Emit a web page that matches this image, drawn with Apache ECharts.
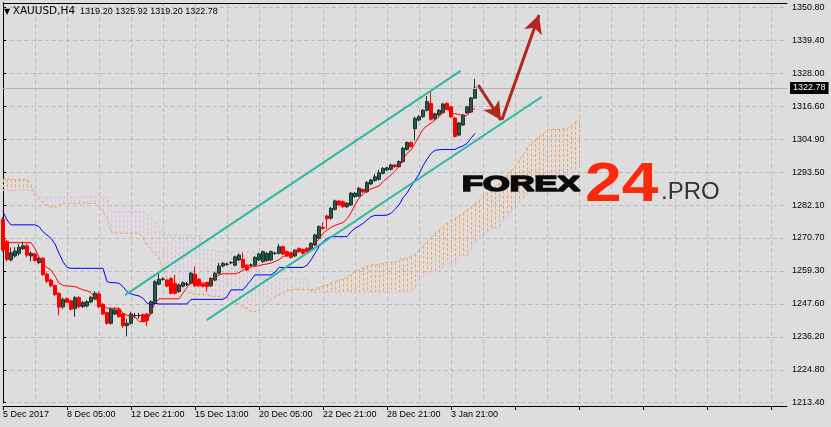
<!DOCTYPE html>
<html><head><meta charset="utf-8">
<script src="https://cdn.jsdelivr.net/npm/echarts@6/dist/echarts.min.js"></script>
<style>html,body{margin:0;padding:0;background:#dddddd;}#c{width:831px;height:427px;}</style>
</head><body><div id="c"></div>
<script>
// ---- data ----
const xTickLabels = ['5 Dec 2017','8 Dec 05:00','12 Dec 21:00','15 Dec 13:00','20 Dec 05:00','22 Dec 21:00','28 Dec 21:00','3 Jan 21:00'];
const yTickLabels = ['1213.40','1224.80','1236.20','1247.60','1259.30','1270.70','1282.10','1293.50','1304.90','1316.60','1328.00','1339.40','1350.80'];
const barCount = 197;
const lastPrice = 1322.78;

const openP = [1277.1,1269.4,1263.0,1264.4,1265.3,1266.9,1267.9,1264.4,1265.1,1262.1,
1263.6,1258.1,1256.0,1254.1,1251.4,1246.7,1249.5,1248.8,1246.1,1249.9,
1246.8,1247.0,1248.4,1249.5,1251.2,1247.6,1244.7,1241.0,1244.2,1245.9,
1244.2,1240.2,1241.0,1243.7,1243.7,1244.0,1244.2,1244.5,1247.9,1254.6,
1256.3,1256.0,1256.6,1254.9,1252.0,1253.9,1254.6,1254.9,1258.0,1256.3,
1254.6,1255.1,1254.0,1256.0,1258.4,1260.9,1261.5,1262.1,1261.2,1263.0,
1263.2,1261.2,1261.2,1261.2,1263.0,1262.4,1262.8,1263.0,1265.3,1265.3,
1267.6,1265.9,1265.5,1264.4,1267.0,1266.6,1267.0,1266.4,1268.2,1270.5,
1274.3,1278.3,1277.5,1280.6,1283.5,1283.3,1281.5,1282.1,1285.0,1285.2,
1287.5,1286.7,1289.4,1290.6,1291.0,1293.1,1294.3,1294.5,1296.0,1295.4,
1297.2,1301.4,1303.8,1308.6,1311.6,1312.8,1315.0,1317.4,1312.2,1313.4,
1314.2,1317.4,1316.2,1312.3,1306.4,1309.9,1314.1,1314.4,1319.2];
const closeP = [1266.5,1263.2,1265.5,1266.1,1267.4,1267.9,1264.7,1265.3,1262.8,1263.6,
1257.9,1255.6,1254.0,1251.0,1246.6,1249.3,1248.3,1245.9,1249.9,1246.8,
1248.2,1248.5,1250.0,1251.4,1246.8,1244.2,1241.0,1245.9,1245.6,1243.3,
1240.1,1241.0,1244.2,1243.7,1243.7,1241.8,1242.0,1248.5,1255.4,1256.3,
1256.3,1253.9,1251.4,1251.4,1254.3,1255.1,1254.6,1258.4,1254.0,1254.0,
1253.9,1253.7,1256.6,1258.4,1260.9,1261.8,1261.5,1262.1,1264.1,1264.7,
1260.4,1259.5,1261.2,1263.9,1265.1,1265.9,1265.3,1265.9,1265.3,1267.6,
1265.1,1264.4,1263.9,1266.4,1265.9,1265.3,1265.9,1268.8,1271.7,1274.6,
1274.0,1277.3,1280.9,1283.5,1282.1,1281.5,1282.7,1286.2,1286.2,1287.9,
1286.7,1289.9,1290.8,1291.9,1293.3,1294.8,1295.0,1296.0,1295.4,1297.2,
1301.8,1303.8,1302.4,1312.2,1312.8,1315.0,1318.0,1311.9,1313.8,1315.0,
1317.2,1315.3,1312.7,1305.9,1310.6,1313.4,1316.2,1319.3,1322.78];
const lowP = [1265.8,1262.5,1262.5,1263.8,1264.5,1266.5,1264.0,1262.5,1262.5,1261.5,
1257.5,1255.0,1253.5,1250.5,1243.7,1246.0,1248.0,1245.5,1243.3,1246.3,
1246.3,1246.5,1248.0,1249.0,1246.3,1243.8,1240.5,1240.5,1243.8,1243.0,
1239.5,1236.4,1240.5,1242.8,1242.6,1241.4,1240.0,1243.8,1247.5,1254.2,
1255.8,1253.5,1251.0,1251.0,1251.6,1253.5,1253.9,1254.5,1253.6,1253.6,
1253.5,1252.0,1253.6,1255.6,1258.0,1260.5,1261.0,1261.6,1260.8,1262.6,
1260.0,1259.1,1260.7,1260.8,1262.6,1262.0,1262.4,1262.6,1264.8,1264.9,
1264.7,1264.0,1263.5,1264.0,1265.5,1264.9,1265.5,1266.0,1267.8,1270.1,
1273.5,1273.8,1277.0,1280.2,1281.7,1281.1,1281.1,1281.7,1284.6,1284.8,
1286.3,1286.3,1289.0,1290.2,1290.6,1292.7,1293.9,1294.1,1295.0,1295.0,
1296.8,1301.0,1302.0,1304.5,1311.2,1312.4,1314.6,1311.4,1311.6,1313.0,
1313.8,1315.0,1312.3,1305.5,1306.0,1309.5,1313.7,1314.0,1319.2];
const highP = [1278.0,1270.0,1267.4,1267.4,1268.5,1269.4,1268.6,1266.0,1265.5,1264.5,
1264.0,1258.6,1256.5,1254.5,1251.8,1250.0,1250.0,1249.2,1250.5,1250.5,
1248.8,1249.0,1250.5,1252.2,1252.0,1248.0,1245.0,1246.5,1246.5,1246.5,
1244.6,1242.5,1245.0,1244.6,1244.6,1244.4,1244.6,1249.0,1256.0,1258.4,
1256.9,1256.4,1257.0,1257.8,1254.8,1255.5,1255.3,1258.9,1260.7,1256.7,
1255.0,1255.5,1257.0,1258.8,1262.0,1262.3,1262.0,1262.6,1264.5,1265.2,
1265.5,1261.6,1261.7,1264.3,1265.5,1266.3,1265.7,1266.3,1265.8,1268.6,
1268.0,1266.3,1265.9,1266.8,1267.4,1267.0,1267.4,1269.2,1272.1,1275.0,
1276.0,1278.8,1281.4,1284.0,1283.9,1283.7,1283.1,1286.6,1286.6,1288.4,
1287.9,1290.4,1291.2,1292.9,1294.4,1295.3,1295.4,1296.5,1296.4,1297.6,
1302.3,1304.2,1304.2,1312.8,1313.3,1315.4,1320.0,1321.5,1314.2,1315.4,
1317.6,1317.8,1316.6,1312.8,1311.0,1313.8,1316.6,1319.7,1325.92];

const tenkan = [1269.0,1269.0,1269.0,1269.0,1269.0,1269.0,1269.0,1269.0,1267.0,1263.9,
1261.6,1260.4,1259.5,1257.4,1254.9,1254.2,1253.9,1253.9,1253.7,1253.2,
1252.6,1252.3,1251.7,1249.7,1247.9,1247.4,1246.2,1246.2,1246.2,1246.2,
1244.5,1243.8,1243.5,1243.3,1241.6,1241.6,1241.6,1245.0,1247.9,1249.5,
1249.5,1249.5,1249.5,1249.5,1249.5,1251.5,1253.5,1255.0,1255.0,1255.0,
1255.0,1255.0,1255.8,1256.6,1257.8,1258.2,1258.2,1258.2,1258.2,1258.6,
1259.5,1260.1,1260.5,1260.8,1261.0,1261.4,1261.6,1261.9,1262.5,1263.1,
1264.2,1264.6,1265.2,1265.7,1265.9,1266.2,1266.8,1267.8,1268.9,1270.2,
1272.3,1273.4,1274.3,1275.0,1275.5,1276.0,1277.3,1279.4,1282.1,1284.4,
1285.9,1287.0,1287.7,1288.2,1288.7,1290.2,1291.4,1292.5,1294.0,1295.4,
1297.8,1300.0,1301.2,1303.5,1306.0,1308.4,1309.6,1310.5,1311.6,1312.8,
1314.5,1316.0,1313.8,1313.8,1313.6,1313.0,1313.2,1314.9,1315.6];
const kijun = [1279.8,1276.9,1275.2,1275.2,1275.2,1275.2,1275.2,1275.2,1275.2,1274.6,
1272.8,1271.7,1270.5,1268.6,1265.3,1262.4,1260.4,1260.1,1260.1,1260.1,
1260.1,1260.1,1260.1,1260.1,1260.1,1260.1,1255.5,1255.1,1255.1,1254.9,
1253.7,1252.0,1251.2,1250.8,1250.5,1249.7,1248.0,1247.3,1247.9,1247.7,
1247.7,1247.7,1247.7,1247.7,1247.7,1247.7,1247.7,1249.3,1249.3,1249.3,
1249.3,1249.3,1249.3,1249.3,1249.3,1249.3,1250.2,1252.6,1252.6,1252.6,
1252.6,1254.3,1256.0,1257.8,1257.8,1257.8,1257.8,1257.8,1258.8,1260.4,
1260.4,1260.4,1260.4,1260.4,1260.4,1260.4,1261.2,1263.0,1265.3,1267.6,
1269.4,1270.5,1271.1,1271.1,1271.1,1271.1,1271.1,1272.8,1274.0,1274.8,
1275.7,1276.9,1278.0,1278.5,1278.5,1278.5,1278.6,1279.2,1280.6,1282.1,
1284.6,1286.3,1288.5,1290.7,1292.8,1295.7,1298.0,1300.0,1301.1,1301.3,
1301.4,1301.4,1301.4,1301.4,1302.1,1302.6,1303.5,1305.3,1307.0];
const senkouA = [1291.0,1291.0,1291.0,1291.0,1291.0,1291.0,1291.0,1289.0,1285.2,1284.1,
1282.9,1281.8,1281.3,1281.3,1281.8,1282.7,1282.7,1282.7,1282.7,1282.7,
1282.7,1282.7,1282.7,1282.7,1281.5,1279.8,1277.5,1272.8,1272.3,1272.3,
1272.3,1272.3,1272.3,1272.3,1272.3,1270.5,1268.0,1266.5,1265.0,1263.5,
1259.5,1256.5,1254.5,1253.3,1252.6,1252.6,1251.6,1251.6,1250.9,1250.9,
1250.9,1250.9,1250.3,1250.3,1250.3,1249.8,1249.8,1249.0,1248.3,1247.5,
1246.5,1246.0,1245.0,1245.0,1245.5,1246.8,1248.0,1249.1,1250.0,1250.8,
1251.5,1252.2,1252.7,1252.7,1252.7,1252.7,1252.7,1252.7,1252.7,1253.5,
1254.0,1254.3,1255.0,1255.5,1256.0,1256.4,1256.8,1258.0,1258.9,1259.5,
1260.2,1260.7,1261.3,1261.3,1261.3,1261.8,1262.2,1262.2,1262.2,1263.0,
1263.5,1263.5,1264.1,1265.0,1266.5,1268.0,1269.4,1271.0,1272.3,1273.4,
1274.5,1275.8,1276.9,1277.5,1278.3,1279.3,1280.5,1281.5,1282.6,1283.8,
1285.0,1286.2,1287.4,1288.5,1289.3,1290.5,1292.5,1294.0,1295.4,1297.5,
1299.5,1302.0,1303.5,1305.0,1305.8,1307.0,1308.2,1308.4,1308.4,1308.4,
1308.6,1308.6,1309.5,1311.0,1311.6];
const senkouB = [1287.1,1287.1,1287.1,1287.1,1287.1,1287.1,1287.1,1287.1,1287.1,1284.8,
1284.8,1284.8,1284.8,1284.8,1284.8,1284.8,1284.8,1284.8,1284.8,1284.8,
1284.8,1284.8,1284.8,1284.8,1284.8,1284.8,1284.8,1279.8,1279.8,1279.8,
1279.8,1279.8,1279.8,1279.8,1279.8,1279.8,1278.8,1277.5,1276.0,1274.2,
1272.5,1271.7,1271.7,1271.7,1271.7,1271.7,1271.7,1271.7,1271.7,1271.7,
1266.5,1266.5,1266.5,1266.5,1265.9,1265.9,1265.9,1265.9,1265.9,1265.9,
1265.9,1265.9,1265.9,1265.9,1256.6,1256.6,1256.6,1256.6,1256.6,1256.6,
1256.6,1256.6,1256.6,1256.6,1256.6,1256.6,1256.6,1251.8,1251.8,1251.8,
1251.8,1251.8,1251.8,1251.8,1251.8,1251.8,1251.8,1251.8,1251.8,1251.8,
1251.8,1251.8,1251.8,1251.8,1251.8,1251.8,1251.8,1251.8,1251.8,1251.8,
1251.8,1251.8,1251.8,1253.0,1256.5,1257.2,1258.9,1258.9,1258.9,1258.9,
1260.5,1261.8,1261.8,1261.8,1264.5,1264.5,1264.5,1266.5,1269.0,1271.1,
1271.5,1272.5,1274.0,1274.0,1274.0,1276.3,1278.0,1279.8,1282.1,1283.0,
1284.5,1286.0,1288.5,1290.5,1291.5,1291.5,1291.5,1291.5,1292.5,1292.5,
1292.5,1292.5,1293.5,1293.5,1294.2];

// drawn objects (bar index, price)
const upperChannel = [[30.5,1250.8],[114.4,1328.7]];
const lowerChannel = [[50.9,1242.1],[134.7,1319.7]];
const arrowDown = [[118.8,1323.8],[124.5,1311.6]];
const arrowUp = [[124.7,1311.6],[134.0,1348.1]];

// ---- chart ----
const yFirst = 1213.4;
const yStep = yFirst / 106;
const yTop = 1352.29;
const categories = Array.from({length: barCount}, (_, i) => String(i));
const candleData = openP.map((o, i) => [o, closeP[i], lowP[i], highP[i]]);
const cloudRows = senkouA.map((a, i) => [i, a, senkouB[i]]);
const cloudUp = cloudRows.filter(r => r[1] >= r[2]);
const cloudDown = cloudRows.filter(r => r[1] < r[2]);

function hatch(params, api) {
  const i = api.value(0), a = api.value(1), b = api.value(2);
  const p1 = api.coord([i, a]), p2 = api.coord([i, b]);
  const x = Math.round(p1[0]) + 0.5;
  const col = api.visual('color');
  return {type: 'line', shape: {x1: x, y1: p1[1], x2: x, y2: p2[1]},
    style: {stroke: col, lineWidth: 1, lineDash: [3, 2]}};
}

const chart = echarts.init(document.getElementById('c'), null, {renderer: 'canvas'});
chart.setOption({
  animation: false,
  backgroundColor: '#dddddd',
  textStyle: {fontFamily: 'Liberation Sans'},
  title: {
    left: 4, top: 6, padding: 0,
    text: '{t|▼ }{s|XAUUSD,H4}{n|  1319.20 1325.92 1319.20 1322.78}',
    textStyle: {
      fontWeight: 'normal', fontSize: 9,
      rich: {
        t: {fontSize: 8, color: '#000', fontFamily: 'DejaVu Sans', fontWeight: 'normal'},
        s: {fontSize: 10.5, color: '#000', fontFamily: 'DejaVu Sans', fontWeight: 'normal'},
        n: {fontSize: 9, color: '#000', fontFamily: 'Liberation Sans', fontWeight: 'normal'}
      }
    }
  },
  grid: {left: 3, right: 44, top: 3, bottom: 24.3, show: false},
  xAxis: [{
    type: 'category', data: categories, boundaryGap: false, offset: 3.3,
    axisLine: {lineStyle: {color: '#000', width: 1}},
    axisTick: {interval: 15, length: 4, lineStyle: {color: '#000'}},
    axisLabel: {interval: 15, align: 'left', fontSize: 9, color: '#000', margin: 4,
      formatter: (v, idx) => xTickLabels[idx / 16] || ''},
    splitLine: {show: true, interval: 7, lineStyle: {color: '#bcbcbc', type: [4, 3], width: 1}}
  }, {
    type: 'value', min: 0, max: barCount - 1, position: 'top',
    axisLine: {show: true, lineStyle: {color: '#000'}},
    axisTick: {show: false}, axisLabel: {show: false}, splitLine: {show: false}
  }],
  yAxis: [{
    type: 'value', position: 'right', min: yFirst, max: yTop, interval: yStep,
    axisLine: {show: true, lineStyle: {color: '#000'}},
    axisTick: {show: true, length: 3, lineStyle: {color: '#000'}},
    axisLabel: {fontSize: 9, color: '#000', margin: 5, showMaxLabel: false,
      formatter: (v) => {
        const k = Math.round((v - yFirst) / yStep);
        if (k < 0 || k >= yTickLabels.length || Math.abs(v - (yFirst + k * yStep)) > 0.05) return '';
        return yTickLabels[k];
      }},
    splitLine: {show: true, lineStyle: {color: '#bcbcbc', type: [4, 3], width: 1}}
  }, {
    type: 'value', position: 'left', min: yFirst, max: yTop,
    axisLine: {show: true, lineStyle: {color: '#000'}},
    axisTick: {show: false}, axisLabel: {show: false}, splitLine: {show: false}
  }],
  series: [
    {type: 'custom', name: 'cloud up', z: 1, silent: true, xAxisIndex: 1,
      itemStyle: {color: '#f4a460'}, encode: {x: 0, y: [1, 2]},
      data: cloudUp, renderItem: hatch},
    {type: 'custom', name: 'cloud down', z: 1, silent: true, xAxisIndex: 1,
      itemStyle: {color: '#d8bfd8'}, encode: {x: 0, y: [1, 2]},
      data: cloudDown, renderItem: hatch},
    {type: 'line', name: 'Senkou A', data: senkouA, symbol: 'none', z: 2, silent: true,
      lineStyle: {color: '#f4a460', width: 1, type: [3, 2]}},
    {type: 'line', name: 'Senkou B', data: senkouB, symbol: 'none', z: 2, silent: true,
      lineStyle: {color: '#d8bfd8', width: 1, type: [3, 2]}},
    {
      type: 'candlestick', name: 'XAUUSD', data: candleData, barWidth: 3, z: 3,
      itemStyle: {color: '#2c5848', color0: '#ff0000', borderColor: '#1b352c', borderColor0: '#ff0000', borderColorDoji: '#111', borderWidth: 1},
      markLine: {
        silent: true, symbol: 'none', animation: false,
        data: [{yAxis: lastPrice}],
        lineStyle: {color: '#b4b4b4', type: 'solid', width: 1},
        label: {position: 'end', formatter: '1322.78', color: '#fff', backgroundColor: '#000',
          fontSize: 9, padding: [2, 3, 1, 3], distance: 3}
      }
    },
    {type: 'line', name: 'Tenkan', data: tenkan, symbol: 'none', z: 4, silent: true,
      lineStyle: {color: '#ff0000', width: 1}},
    {type: 'line', name: 'Kijun', data: kijun, symbol: 'none', z: 4, silent: true,
      lineStyle: {color: '#0000ff', width: 1}},
    {type: 'line', name: 'upper', xAxisIndex: 1, data: upperChannel, symbol: 'none', z: 5, silent: true,
      lineStyle: {color: '#2bbaa2', width: 2}},
    {type: 'line', name: 'lower', xAxisIndex: 1, data: lowerChannel, symbol: 'none', z: 5, silent: true,
      lineStyle: {color: '#2bbaa2', width: 2}},
    {type: 'line', name: 'arrows', xAxisIndex: 1, data: [], z: 6, silent: true,
      markLine: {
        silent: true, animation: false, symbol: ['none', 'arrow'], symbolSize: [14, 18],
        label: {show: false},
        lineStyle: {color: '#b3261e', width: 3, type: 'solid'},
        data: [
          [{coord: arrowDown[0]}, {coord: arrowDown[1]}],
          [{coord: arrowUp[0]}, {coord: arrowUp[1]}]
        ]
      }}
  ],
  graphic: [
    {type: 'text', x: 462, y: 185, scaleX: 1.56, z: 100, silent: true,
      style: {text: 'FOREX', x: 0, y: 0, textAlign: 'left', textVerticalAlign: 'middle',
        font: 'bold 22px "Liberation Sans"', fill: '#0b0b0b', stroke: '#0b0b0b', lineWidth: 1.6}},
    {type: 'text', x: 585, y: 186, scaleX: 1.2, z: 100, silent: true,
      style: {text: '24', x: 0, y: 0, textAlign: 'left', textVerticalAlign: 'middle',
        font: 'bold 55px "Liberation Sans"', fill: '#f92a0c'}},
    {type: 'text', x: 661, y: 192, z: 100, silent: true,
      style: {text: '.PRO', x: 0, y: 0, textAlign: 'left', textVerticalAlign: 'middle',
        font: '24px "Liberation Sans"', fill: '#333333'}}
  ]
});
</script>
</body></html>
